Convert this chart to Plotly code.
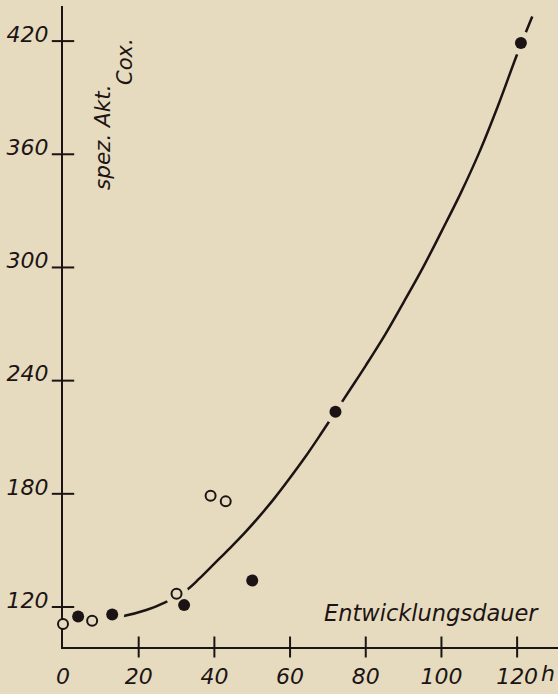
import plotly.graph_objects as go

# ---- data ----
filled_x = [4, 13, 32, 50, 72, 121]
filled_y = [115, 116, 121, 134, 223.5, 419]
open_x = [0, 7.7, 30, 39, 43]
open_y = [111, 112.7, 127, 179, 176]

curve_x = [8.5, 13, 16, 22, 27, 30, 33, 36, 40, 44, 48, 52, 56, 60, 64, 68, 72, 76, 80,
           85, 90, 95, 100, 105, 110, 115, 120, 124]
curve_y = [112.5, 114.3, 115.2, 118.4, 122.5, 125.8, 129.5, 135, 143, 151, 159.3, 168.3,
           178, 188.5, 199.5, 211.3, 223.5, 235.7, 248, 264, 281.5, 299.5, 319, 339, 361, 386, 413, 433]

x_ticks = [20, 40, 60, 80, 100, 120]
x_labels = [0, 20, 40, 60, 80, 100, 120]
y_ticks = [120, 180, 240, 300, 360, 420]

BG = "#e6dbbf"
INK = "#1c1414"
FONT = "DejaVu Sans"

fig = go.Figure()

# fitted curve
fig.add_trace(go.Scatter(x=curve_x, y=curve_y, mode="lines",
                         line=dict(color=INK, width=2.5, shape="spline", smoothing=1.0),
                         hoverinfo="skip", showlegend=False))

# halo to break the curve around the points
halo_x = list(filled_x) + [v for v in open_x if v > 5]
halo_y = list(filled_y) + [open_y[i] for i in range(len(open_x)) if open_x[i] > 5]
fig.add_trace(go.Scatter(x=halo_x, y=halo_y, mode="markers",
                         marker=dict(color=BG, size=24, line=dict(width=0)),
                         hoverinfo="skip", showlegend=False, cliponaxis=False))

# tick marks crossing the axes
fig.add_trace(go.Scatter(x=[0] * len(y_ticks), y=y_ticks, mode="markers",
                         marker=dict(symbol="line-ew", size=16, line=dict(color=INK, width=2)),
                         hoverinfo="skip", showlegend=False, cliponaxis=False))
fig.add_trace(go.Scatter(x=x_ticks, y=[98.8] * len(x_ticks), mode="markers",
                         marker=dict(symbol="line-ns", size=15, line=dict(color=INK, width=2)),
                         hoverinfo="skip", showlegend=False, cliponaxis=False))

# data points
fig.add_trace(go.Scatter(x=filled_x, y=filled_y, mode="markers",
                         marker=dict(color=INK, size=12, line=dict(width=0)),
                         showlegend=False, cliponaxis=False))
fig.add_trace(go.Scatter(x=open_x, y=open_y, mode="markers",
                         marker=dict(color=BG, size=10, line=dict(color=INK, width=2)),
                         showlegend=False, cliponaxis=False))

tickfont = dict(family=FONT, size=22, color=INK, style="italic")

fig.update_xaxes(range=[0, 130.8], showline=True, linewidth=2, linecolor=INK,
                 showgrid=False, zeroline=False, ticks="", automargin=False,
                 tickvals=x_labels, ticktext=[str(v) for v in x_labels],
                 tickfont=tickfont, ticklabelstandoff=9, layer="below traces")
fig.update_yaxes(range=[98.8, 438.6], showline=True, linewidth=2, linecolor=INK,
                 showgrid=False, zeroline=False, ticks="", automargin=False,
                 tickvals=y_ticks, ticktext=[str(v) for v in y_ticks],
                 tickfont=tickfont, ticklabelstandoff=8, ticklabelshift=-7,
                 layer="below traces")

annfont = dict(family=FONT, size=22, color=INK, style="italic")
fig.add_annotation(x=120, y=0, xref="x", yref="paper", text="h", showarrow=False,
                   xanchor="left", yanchor="top", xshift=22, yshift=-12, font=annfont)
fig.add_annotation(x=97.5, y=116.8, xref="x", yref="y", text="Entwicklungsdauer",
                   showarrow=False, font=dict(family=FONT, size=22.5, color=INK, style="italic"))
fig.add_annotation(x=10.6, y=368.7, xref="x", yref="y", text="spez. Akt.", textangle=-90,
                   showarrow=False, font=dict(family=FONT, size=21.5, color=INK, style="italic"))
fig.add_annotation(x=16.4, y=409, xref="x", yref="y", text="Cox.", textangle=-90,
                   showarrow=False, font=dict(family=FONT, size=21, color=INK, style="italic"))

fig.update_layout(width=558, height=694,
                  margin=dict(l=63, r=0, t=6, b=47, autoexpand=False),
                  paper_bgcolor=BG, plot_bgcolor=BG, showlegend=False)

fig.write_html("out.html", config={"displayModeBar": False},
               post_script="document.body.style.margin='0';document.body.style.background='" + BG + "';")
